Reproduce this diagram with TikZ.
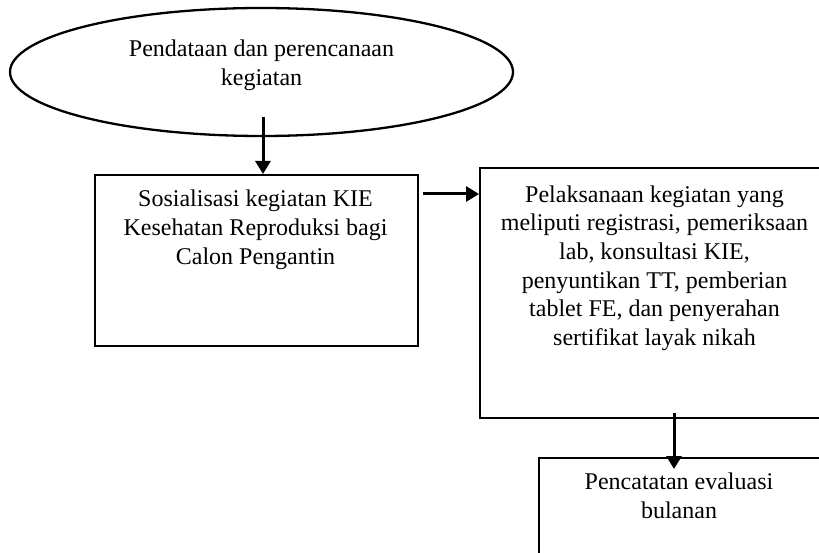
\documentclass[tikz,border=0pt]{standalone}
\usepackage{fontspec}
\setmainfont{Liberation Serif}
\usetikzlibrary{shapes.geometric,arrows.meta}
\tikzset{
  boxshape/.style={draw=black, line width=2.3pt, rectangle, inner sep=0pt, anchor=north west},
  oval/.style={draw=black, line width=2.3pt, ellipse, inner sep=0pt, minimum width=503pt, minimum height=128pt},
  lbl/.style={inner sep=0pt, anchor=north, align=center, font=\fontsize{24}{28.6}\selectfont},
  flow/.style={line width=3pt, -{Triangle[width=15pt,length=13pt]}}
}
\begin{document}
\begin{tikzpicture}[x=1pt,y=-1pt]
\useasboundingbox (0,0) rectangle (819,553);
\clip (0,0) rectangle (819,553);
% shapes
\node[oval] (start) at (261.5,72) {};
\node[boxshape, minimum width=323pt, minimum height=171pt] (box1) at (94,174) {};
\node[boxshape, minimum width=351pt, minimum height=250pt] (box2) at (479,167) {};
\node[boxshape, minimum width=282pt, minimum height=150pt] (box3) at (538,457) {};
% texts
\node[lbl] (t0) at (261.5,40) {Pendataan dan perencanaan\\kegiatan};
\node[lbl] (t1) at (255.5,190) {Sosialisasi kegiatan KIE\\Kesehatan Reproduksi bagi\\Calon Pengantin};
\node[lbl] (t2) at (654.5,185.5) {Pelaksanaan kegiatan yang\\meliputi registrasi, pemeriksaan\\lab, konsultasi KIE,\\penyuntikan TT, pemberian\\tablet FE, dan penyerahan\\sertifikat layak nikah};
\node[lbl] (t3) at (679,473) {Pencatatan evaluasi\\bulanan};
% connectors
\coordinate (a1s) at (263,117);
\coordinate (a2s) at (423,194);
\coordinate (a3s) at (674,413);
\coordinate (a3e) at (674,469);
\draw[flow] (a1s) -- (a1s |- box1.north);
\draw[flow] (a2s) -- (a2s -| box2.west);
\draw[flow] (a3s) -- (a3e);
\end{tikzpicture}
\end{document}
